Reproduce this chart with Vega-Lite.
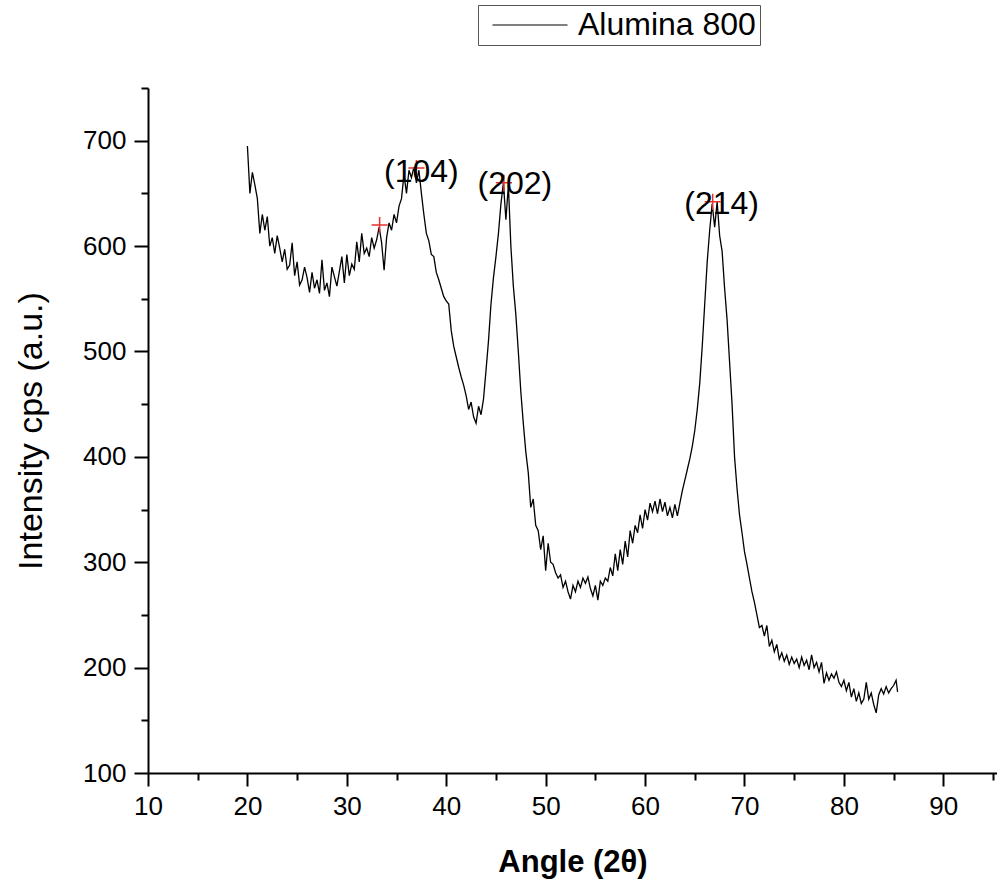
{
  "$schema": "https://vega.github.io/schema/vega-lite/v6.json",
  "width": 849,
  "height": 685,
  "autosize": {"type": "none"},
  "padding": {"left": 148, "top": 88, "right": 0, "bottom": 108},
  "background": "white",
  "config": {
    "view": {"stroke": null},
    "font": "Liberation Sans",
    "axis": {
      "grid": false,
      "domainColor": "black",
      "domainWidth": 2,
      "tickColor": "black",
      "tickWidth": 2,
      "labelColor": "black",
      "labelFont": "Liberation Sans",
      "labelFontSize": 26,
      "labelFlush": false,
      "titleColor": "black",
      "titleFont": "Liberation Sans"
    },
    "legend": {
      "orient": "none",
      "legendX": 330,
      "legendY": -83,
      "strokeColor": "#555555",
      "padding": 4,
      "symbolType": "stroke",
      "symbolSize": 5625,
      "symbolStrokeWidth": 1,
      "symbolOffset": 10,
      "clipHeight": 32,
      "labelFont": "Liberation Sans",
      "labelFontSize": 32,
      "labelColor": "black",
      "labelOffset": 10,
      "labelLimit": 400
    }
  },
  "datasets": {
    "xrd": [
      {"angle":20.00,"intensity":695},{"angle":20.25,"intensity":650},{"angle":20.50,"intensity":670},{"angle":20.75,"intensity":658},
      {"angle":21.00,"intensity":645},{"angle":21.25,"intensity":612},{"angle":21.50,"intensity":630},{"angle":21.75,"intensity":615},
      {"angle":22.00,"intensity":628},{"angle":22.25,"intensity":600},{"angle":22.50,"intensity":608},{"angle":22.75,"intensity":593},
      {"angle":23.00,"intensity":610},{"angle":23.25,"intensity":598},{"angle":23.50,"intensity":585},{"angle":23.75,"intensity":597},
      {"angle":24.00,"intensity":578},{"angle":24.25,"intensity":582},{"angle":24.50,"intensity":603},{"angle":24.75,"intensity":572},
      {"angle":25.00,"intensity":585},{"angle":25.25,"intensity":563},{"angle":25.50,"intensity":568},{"angle":25.75,"intensity":580},
      {"angle":26.00,"intensity":570},{"angle":26.25,"intensity":556},{"angle":26.50,"intensity":575},{"angle":26.75,"intensity":560},
      {"angle":27.00,"intensity":568},{"angle":27.25,"intensity":555},{"angle":27.50,"intensity":587},{"angle":27.75,"intensity":558},
      {"angle":28.00,"intensity":565},{"angle":28.25,"intensity":552},{"angle":28.50,"intensity":580},{"angle":28.75,"intensity":571},
      {"angle":29.00,"intensity":562},{"angle":29.25,"intensity":576},{"angle":29.50,"intensity":590},{"angle":29.75,"intensity":565},
      {"angle":30.00,"intensity":592},{"angle":30.25,"intensity":572},{"angle":30.50,"intensity":583},{"angle":30.75,"intensity":578},
      {"angle":31.00,"intensity":604},{"angle":31.25,"intensity":585},{"angle":31.50,"intensity":612},{"angle":31.75,"intensity":593},
      {"angle":32.00,"intensity":598},{"angle":32.25,"intensity":590},{"angle":32.50,"intensity":608},{"angle":32.75,"intensity":598},
      {"angle":33.00,"intensity":606},{"angle":33.25,"intensity":618},{"angle":33.50,"intensity":603},{"angle":33.75,"intensity":577},
      {"angle":34.00,"intensity":608},{"angle":34.25,"intensity":622},{"angle":34.50,"intensity":615},{"angle":34.75,"intensity":630},
      {"angle":35.00,"intensity":622},{"angle":35.25,"intensity":638},{"angle":35.50,"intensity":645},{"angle":35.75,"intensity":668},
      {"angle":36.00,"intensity":650},{"angle":36.25,"intensity":672},{"angle":36.50,"intensity":665},{"angle":36.75,"intensity":675},
      {"angle":37.00,"intensity":660},{"angle":37.25,"intensity":672},{"angle":37.50,"intensity":650},{"angle":37.75,"intensity":630},
      {"angle":38.00,"intensity":612},{"angle":38.25,"intensity":605},{"angle":38.50,"intensity":592},{"angle":38.75,"intensity":590},
      {"angle":39.00,"intensity":575},{"angle":39.25,"intensity":568},{"angle":39.50,"intensity":560},{"angle":39.75,"intensity":552},
      {"angle":40.00,"intensity":548},{"angle":40.25,"intensity":545},{"angle":40.50,"intensity":520},{"angle":40.75,"intensity":505},
      {"angle":41.00,"intensity":495},{"angle":41.25,"intensity":485},{"angle":41.50,"intensity":476},{"angle":41.75,"intensity":468},
      {"angle":42.00,"intensity":458},{"angle":42.25,"intensity":445},{"angle":42.50,"intensity":452},{"angle":42.75,"intensity":438},
      {"angle":43.00,"intensity":432},{"angle":43.25,"intensity":448},{"angle":43.50,"intensity":440},{"angle":43.75,"intensity":455},
      {"angle":44.00,"intensity":482},{"angle":44.25,"intensity":510},{"angle":44.50,"intensity":545},{"angle":44.75,"intensity":570},
      {"angle":45.00,"intensity":590},{"angle":45.25,"intensity":612},{"angle":45.50,"intensity":640},{"angle":45.75,"intensity":660},
      {"angle":46.00,"intensity":625},{"angle":46.25,"intensity":658},{"angle":46.50,"intensity":600},{"angle":46.75,"intensity":562},
      {"angle":47.00,"intensity":535},{"angle":47.25,"intensity":500},{"angle":47.50,"intensity":462},{"angle":47.75,"intensity":432},
      {"angle":48.00,"intensity":405},{"angle":48.25,"intensity":385},{"angle":48.50,"intensity":352},{"angle":48.75,"intensity":360},
      {"angle":49.00,"intensity":335},{"angle":49.25,"intensity":330},{"angle":49.50,"intensity":312},{"angle":49.75,"intensity":325},
      {"angle":50.00,"intensity":292},{"angle":50.25,"intensity":318},{"angle":50.50,"intensity":300},{"angle":50.75,"intensity":298},
      {"angle":51.00,"intensity":290},{"angle":51.25,"intensity":285},{"angle":51.50,"intensity":288},{"angle":51.75,"intensity":276},
      {"angle":52.00,"intensity":282},{"angle":52.25,"intensity":272},{"angle":52.50,"intensity":265},{"angle":52.75,"intensity":278},
      {"angle":53.00,"intensity":272},{"angle":53.25,"intensity":282},{"angle":53.50,"intensity":276},{"angle":53.75,"intensity":285},
      {"angle":54.00,"intensity":280},{"angle":54.25,"intensity":286},{"angle":54.50,"intensity":275},{"angle":54.75,"intensity":268},
      {"angle":55.00,"intensity":278},{"angle":55.25,"intensity":264},{"angle":55.50,"intensity":282},{"angle":55.75,"intensity":278},
      {"angle":56.00,"intensity":285},{"angle":56.25,"intensity":282},{"angle":56.50,"intensity":295},{"angle":56.75,"intensity":287},
      {"angle":57.00,"intensity":308},{"angle":57.25,"intensity":292},{"angle":57.50,"intensity":312},{"angle":57.75,"intensity":298},
      {"angle":58.00,"intensity":320},{"angle":58.25,"intensity":305},{"angle":58.50,"intensity":330},{"angle":58.75,"intensity":318},
      {"angle":59.00,"intensity":335},{"angle":59.25,"intensity":328},{"angle":59.50,"intensity":345},{"angle":59.75,"intensity":332},
      {"angle":60.00,"intensity":350},{"angle":60.25,"intensity":340},{"angle":60.50,"intensity":356},{"angle":60.75,"intensity":348},
      {"angle":61.00,"intensity":358},{"angle":61.25,"intensity":346},{"angle":61.50,"intensity":360},{"angle":61.75,"intensity":348},
      {"angle":62.00,"intensity":357},{"angle":62.25,"intensity":344},{"angle":62.50,"intensity":352},{"angle":62.75,"intensity":342},
      {"angle":63.00,"intensity":355},{"angle":63.25,"intensity":344},{"angle":63.50,"intensity":356},{"angle":63.75,"intensity":368},
      {"angle":64.00,"intensity":378},{"angle":64.25,"intensity":388},{"angle":64.50,"intensity":398},{"angle":64.75,"intensity":410},
      {"angle":65.00,"intensity":425},{"angle":65.25,"intensity":445},{"angle":65.50,"intensity":470},{"angle":65.75,"intensity":505},
      {"angle":66.00,"intensity":545},{"angle":66.25,"intensity":585},{"angle":66.50,"intensity":615},{"angle":66.75,"intensity":640},
      {"angle":67.00,"intensity":618},{"angle":67.25,"intensity":642},{"angle":67.50,"intensity":610},{"angle":67.75,"intensity":595},
      {"angle":68.00,"intensity":560},{"angle":68.25,"intensity":530},{"angle":68.50,"intensity":490},{"angle":68.75,"intensity":450},
      {"angle":69.00,"intensity":400},{"angle":69.25,"intensity":370},{"angle":69.50,"intensity":345},{"angle":69.75,"intensity":328},
      {"angle":70.00,"intensity":310},{"angle":70.25,"intensity":298},{"angle":70.50,"intensity":285},{"angle":70.75,"intensity":272},
      {"angle":71.00,"intensity":262},{"angle":71.25,"intensity":250},{"angle":71.50,"intensity":238},{"angle":71.75,"intensity":240},
      {"angle":72.00,"intensity":230},{"angle":72.25,"intensity":240},{"angle":72.50,"intensity":220},{"angle":72.75,"intensity":226},
      {"angle":73.00,"intensity":215},{"angle":73.25,"intensity":222},{"angle":73.50,"intensity":208},{"angle":73.75,"intensity":214},
      {"angle":74.00,"intensity":206},{"angle":74.25,"intensity":212},{"angle":74.50,"intensity":203},{"angle":74.75,"intensity":210},
      {"angle":75.00,"intensity":204},{"angle":75.25,"intensity":208},{"angle":75.50,"intensity":200},{"angle":75.75,"intensity":210},
      {"angle":76.00,"intensity":202},{"angle":76.25,"intensity":207},{"angle":76.50,"intensity":198},{"angle":76.75,"intensity":212},
      {"angle":77.00,"intensity":200},{"angle":77.25,"intensity":205},{"angle":77.50,"intensity":196},{"angle":77.75,"intensity":205},
      {"angle":78.00,"intensity":185},{"angle":78.25,"intensity":195},{"angle":78.50,"intensity":188},{"angle":78.75,"intensity":194},
      {"angle":79.00,"intensity":190},{"angle":79.25,"intensity":196},{"angle":79.50,"intensity":186},{"angle":79.75,"intensity":182},
      {"angle":80.00,"intensity":188},{"angle":80.25,"intensity":178},{"angle":80.50,"intensity":186},{"angle":80.75,"intensity":172},
      {"angle":81.00,"intensity":180},{"angle":81.25,"intensity":168},{"angle":81.50,"intensity":176},{"angle":81.75,"intensity":166},
      {"angle":82.00,"intensity":170},{"angle":82.25,"intensity":186},{"angle":82.50,"intensity":170},{"angle":82.75,"intensity":176},
      {"angle":83.00,"intensity":165},{"angle":83.25,"intensity":157},{"angle":83.50,"intensity":174},{"angle":83.75,"intensity":180},
      {"angle":84.00,"intensity":175},{"angle":84.25,"intensity":182},{"angle":84.50,"intensity":176},{"angle":84.75,"intensity":180},
      {"angle":85.00,"intensity":183},{"angle":85.25,"intensity":188},{"angle":85.40,"intensity":177}
    ],
    "peaks": [
      {"angle":33.3,"intensity":620},
      {"angle":37.0,"intensity":674},
      {"angle":45.8,"intensity":660},
      {"angle":66.8,"intensity":642}
    ],
    "labels": [
      {"angle":37.5,"intensity":670,"hkl":"(104)"},
      {"angle":46.9,"intensity":659,"hkl":"(202)"},
      {"angle":67.7,"intensity":640,"hkl":"(214)"}
    ]
  },
  "layer": [
    {
      "data": {"name": "xrd"},
      "mark": {"type": "line", "strokeWidth": 1.3, "interpolate": "linear"},
      "encoding": {
        "x": {
          "field": "angle", "type": "quantitative",
          "scale": {"domain": [10, 95.4], "nice": false, "zero": false},
          "axis": {
            "orient": "bottom",
            "values": [10, 20, 30, 40, 50, 60, 70, 80, 90],
            "tickSize": 13,
            "labelPadding": 7,
            "title": "Angle (2θ)",
            "titleFontSize": 31,
            "titleFontWeight": "bold",
            "titlePadding": 28
          }
        },
        "y": {
          "field": "intensity", "type": "quantitative",
          "scale": {"domain": [100, 750], "nice": false, "zero": false},
          "axis": {
            "orient": "left",
            "values": [100, 200, 300, 400, 500, 600, 700],
            "tickSize": 14,
            "labelPadding": 8,
            "title": "Intensity cps (a.u.)",
            "titleFontSize": 34,
            "titleFontWeight": "normal",
            "titlePadding": 34
          }
        },
        "color": {
          "datum": "Alumina 800",
          "type": "nominal",
          "scale": {"range": ["#000000"]},
          "legend": {"title": null}
        }
      }
    },
    {
      "data": {"name": "peaks"},
      "mark": {
        "type": "point",
        "shape": "M-1,0H1M0,-1V1",
        "filled": false,
        "stroke": "#e8312f",
        "strokeWidth": 1.5,
        "opacity": 1,
        "size": 260
      },
      "encoding": {
        "x": {
          "field": "angle", "type": "quantitative",
          "axis": {
            "orient": "bottom",
            "values": [15, 25, 35, 45, 55, 65, 75, 85, 95],
            "tickSize": 7,
            "labels": false,
            "domain": false,
            "title": null
          }
        },
        "y": {
          "field": "intensity", "type": "quantitative",
          "axis": {
            "orient": "left",
            "values": [150, 250, 350, 450, 550, 650, 750],
            "tickSize": 7,
            "labels": false,
            "domain": false,
            "title": null
          }
        }
      }
    },
    {
      "data": {"name": "labels"},
      "mark": {
        "type": "text",
        "font": "Liberation Sans",
        "fontSize": 32,
        "color": "black",
        "align": "center",
        "baseline": "middle"
      },
      "encoding": {
        "x": {"field": "angle", "type": "quantitative", "axis": null},
        "y": {"field": "intensity", "type": "quantitative", "axis": null},
        "text": {"field": "hkl"}
      }
    }
  ],
  "resolve": {"axis": {"x": "independent", "y": "independent"}}
}
